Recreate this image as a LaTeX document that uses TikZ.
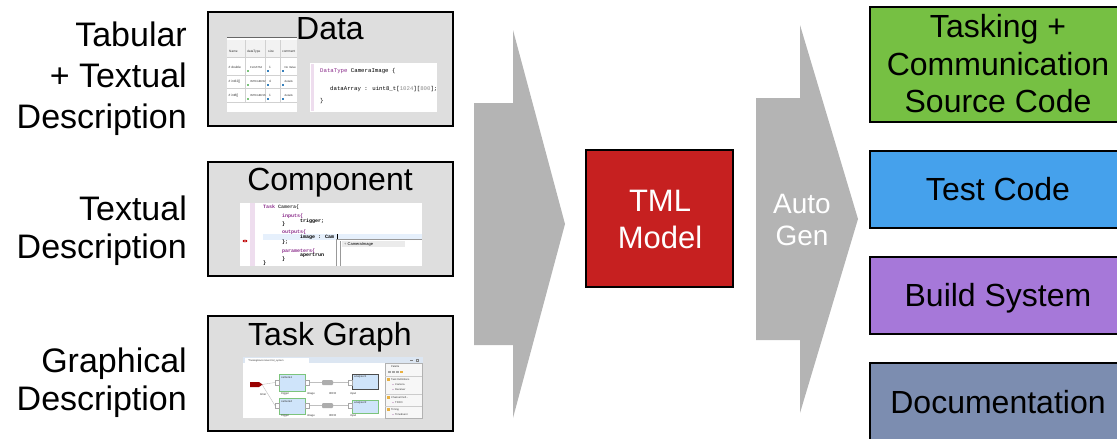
\documentclass[tikz,border=0pt]{standalone}
\usepackage{fontspec}
\setmainfont{Liberation Sans}
\newfontfamily\codefont{Liberation Mono}
\definecolor{panelgray}{HTML}{DEDEDE}
\definecolor{arrowgray}{HTML}{B4B4B4}
\definecolor{tmlred}{HTML}{C62020}
\definecolor{srcgreen}{HTML}{76C043}
\definecolor{testblue}{HTML}{45A1EC}
\definecolor{buildpurple}{HTML}{A678D9}
\definecolor{docslate}{HTML}{7C8DB0}
\definecolor{kwpurple}{HTML}{8B2D8B}
\definecolor{gutterpink}{HTML}{EEDDEE}
\definecolor{linehl}{HTML}{E6F0FC}
\definecolor{nodeblue}{HTML}{CFE4FA}
\definecolor{nodegreen}{HTML}{7CC47C}
\definecolor{tabbar}{HTML}{DCE6F2}
\definecolor{folder}{HTML}{E8B040}
\begin{document}
\begin{tikzpicture}[x=1pt,y=-1pt,
  panel/.style={draw=black,line width=2.6pt,fill=panelgray,inner sep=0,minimum width=245pt},
  outbox/.style={draw=black,line width=2.6pt,inner sep=0,minimum width=256pt,minimum height=77pt},
  side/.style={font=\fontsize{34}{40}\selectfont,inner sep=0,anchor=base east},
  title/.style={font=\fontsize{32}{38}\selectfont,inner sep=0,anchor=base},
  outtext/.style={font=\fontsize{32}{38}\selectfont,inner sep=0,anchor=base},
  midtext/.style={font=\fontsize{31}{37}\selectfont,inner sep=0,anchor=base,text=white},
  code/.style={font=\codefont\fontsize{5.7}{6}\selectfont,inner sep=0,anchor=base west},
  ccode/.style={font=\codefont\bfseries\fontsize{5}{5.5}\selectfont,inner sep=0,anchor=base west},
  tiny/.style={font=\fontsize{3.2}{3.5}\selectfont,inner sep=0,anchor=base west,text=black!80},
  kw/.style={text=kwpurple},
  gridline/.style={draw=black!18,line width=0.3pt},
  tgnode/.style={fill=nodeblue,draw=nodegreen,line width=0.6pt},
  port/.style={fill=white,draw=black!35,line width=0.3pt},
  wire/.style={draw=black!25,line width=0.4pt},
]
\useasboundingbox (0,0) rectangle (1117,439);

% ---------- input descriptions ----------
\node[side] (tabA) at (187,46) {Tabular};
\node[side] (tabB) at (187,87) {+ Textual};
\node[side] (tabC) at (187,128) {Description};
\node[side] (txtA) at (187,220) {Textual};
\node[side] (txtB) at (187,258) {Description};
\node[side] (grA) at (187,372) {Graphical};
\node[side] (grB) at (187,410) {Description};

% ---------- input panels ----------
\node[panel,minimum height=114pt] (datapanel) at (330.5,69) {};
\node[panel,minimum height=114pt] (comppanel) at (330.5,219) {};
\node[panel,minimum height=115pt] (graphpanel) at (330.5,373.5) {};

% Data: table view
\fill[white] (227,37) rectangle (297,112);
\draw[black!60,line width=0.6pt] (227,37.4) -- (297,37.4);
\fill[black!5] (227,40) rectangle (297,57);
\foreach \yy in {57,75,88,102} \draw[gridline] (227,\yy) -- (297,\yy);
\foreach \xx in {245,265,280} \draw[gridline] (\xx,40) -- (\xx,102);
\node[tiny] (hname) at (229,52) {Name};
\node[tiny] (htype) at (247,52) {dataType};
\node[tiny] (hsize) at (268,52) {size};
\node[tiny] (hcomm) at (282,52) {comment};
\foreach \yy/\na/\ty/\sz/\cm [count=\r] in {68/{\# double}/FLOAT64/1/{No Value},
                                            82/{\# int32[]}/INTEGER32/4/details,
                                            96/{\# int8[]}/INTEGER16/1/details}{
  \node[tiny] (rn\r) at (228.5,\yy) {\na};
  \node[tiny,font=\fontsize{2.8}{3}\selectfont] (rt\r) at (250,\yy) {\ty};
  \node[tiny] (rs\r) at (269,\yy) {\sz};
  \node[tiny,font=\fontsize{2.8}{3}\selectfont] (rc\r) at (284.5,\yy) {\cm};
  \fill[nodegreen] (246.5,\yy+1.5) rectangle (248.8,\yy+3.8);
  \fill[testblue!80!black] (266.5,\yy+1.5) rectangle (268.8,\yy+3.8);
  \fill[testblue!80!black] (281.5,\yy+1.5) rectangle (283.8,\yy+3.8);
}

% Data: type definition
\fill[white] (310,63) rectangle (437,112);
\fill[gutterpink] (311,64) rectangle (314,111);
\node[code] (dl1) at (320,72) {\textcolor{kwpurple}{DataType} CameraImage \{};
\node[code] (dl2) at (330,90) {dataArray : uint8\_t[\textcolor{black!45}{1024}][\textcolor{black!45}{800}];};
\node[code] (dl3) at (320,102) {\}};

% ---------- titles ----------
\node[title] (datatitle) at (330,39) {Data};
\node[title] (comptitle) at (330,190) {Component};
\node[title] (graphtitle) at (330,345) {Task Graph};

% Component: editor
\fill[white] (240,203) rectangle (422,266);
\fill[gutterpink] (250,203) rectangle (255,266);
\fill[linehl] (263,234) rectangle (422,239.5);
\fill[red!75!black] (245,241) ellipse [x radius=2.4pt,y radius=1.3pt];
\fill[white] (245,241) ellipse [x radius=1.2pt,y radius=0.5pt];
\node[ccode,kw] (cl1) at (263,208) {Task \textcolor{black!75}{Camera\{}};
\node[ccode,kw] (cl2) at (282,217) {inputs\{};
\node[ccode] (cl3) at (300,222) {trigger;};
\node[ccode] (cl4) at (282,225.5) {\}};
\node[ccode,kw] (cl5) at (282,233) {outputs\{};
\node[ccode] (cl6) at (300,238) {image : Cam};
\draw[black,line width=0.5pt] (337.2,234) -- (337.2,239);
\node[ccode] (cl7) at (282,243.5) {\};};
\node[ccode,kw] (cl8) at (282,252) {parameters\{};
\node[ccode] (cl9) at (300,256.5) {apertrun};
\node[ccode] (cl10) at (282,260) {\}};
\node[ccode] (cl11) at (263,264) {\}};
% completion popup
\fill[white] (336,239.5) rectangle (422,266);
\draw[black!40,line width=0.4pt] (336,266) -- (336,239.5) -- (422,239.5);
\draw[black!40,line width=0.4pt] (340.5,241) -- (340.5,266);
\fill[black!8] (342,241) rectangle (405,246.5);
\node[font=\fontsize{4}{4.5}\selectfont,inner sep=0,anchor=base west] (popitem) at (344,245.2) {\textcolor{black!55}{+} CameraImage};

% Task Graph: editor
\fill[white] (243,357) rectangle (423,418);
\fill[tabbar] (243,357) rectangle (423,363);
\fill[white] (245,357.5) rectangle (309,363);
\node[tiny,font=\fontsize{2.4}{2.5}\selectfont] (tabname) at (248,361.6) {*TaskingEnvironment.tml\_system};
\draw[black!50,line width=0.3pt] (410,360) -- (413,360);
\draw[black!50,line width=0.3pt] (416,358.8) rectangle (418.5,361.3);
% wires
\draw[wire] (262,384.5) -- (275,382.5);
\draw[wire] (262,384.5) -- (275,405.5);
\draw[wire] (309,382.5) -- (322,382.5);
\draw[wire] (333,382.5) -- (348,382.5);
\draw[wire] (309,405.5) -- (322,405.5);
\draw[wire] (333,405.5) -- (348,405.5);
% timer
\fill[red!60!black] (250,382) -- (259,382) -- (262.5,384.5) -- (259,387) -- (250,387) -- cycle;
\node[tiny,font=\fontsize{2.8}{3}\selectfont] (tlab) at (260,395) {timer};
% tasks
\node[tgnode,minimum width=26pt,minimum height=17pt,inner sep=0] (cam1) at (292,382.5) {};
\node[tgnode,minimum width=26pt,minimum height=16pt,inner sep=0] (cam2) at (292,406) {};
\node[tgnode,draw=black!70,minimum width=26pt,minimum height=15pt,inner sep=0] (ana1) at (365,381.5) {};
\node[tgnode,minimum width=26pt,minimum height=13pt,inner sep=0] (ana2) at (365,406.5) {};
\node[tiny,font=\fontsize{2.8}{3}\selectfont] (cam1l) at (281,378.5) {camera1};
\node[tiny,font=\fontsize{2.8}{3}\selectfont] (cam2l) at (281,402) {camera2};
\node[tiny,font=\fontsize{2.8}{3}\selectfont] (ana1l) at (354,377.5) {analyser1};
\node[tiny,font=\fontsize{2.8}{3}\selectfont] (ana2l) at (354,403) {analyser2};
% ports
\foreach \px/\py in {275/380,305/380,275/403,305/403,348/380,348/403}
  \filldraw[port] (\px,\py) rectangle (\px+4,\py+5);
% channels
\fill[black!32,rounded corners=1pt] (322,380) rectangle (333,385);
\fill[black!32,rounded corners=1pt] (322,403) rectangle (333,408);
% port labels
\foreach \ly [count=\k] in {394.5,416.5}{
  \node[tiny,font=\fontsize{2.8}{3}\selectfont] (trg\k) at (281,\ly) {trigger};
  \node[tiny,font=\fontsize{2.8}{3}\selectfont] (img\k) at (307,\ly) {image};
  \node[tiny,font=\fontsize{2.8}{3}\selectfont] (ffo\k) at (329,\ly) {tFIFO};
  \node[tiny,font=\fontsize{2.8}{3}\selectfont] (inp\k) at (350,\ly) {input};
}
% palette
\fill[black!3] (385,363.5) rectangle (422,418);
\draw[black!30,line width=0.3pt] (385,363.5) rectangle (422,418);
\node[tiny,font=\fontsize{2.6}{3}\selectfont] (palA) at (391,367.5) {Palette};
\foreach \ix in {388,392,396} \fill[black!35] (\ix,370.5) rectangle (\ix+2.5,373);
\fill[folder] (400,370.5) rectangle (403,373);
\foreach \yy/\lab/\lx/\ic [count=\k] in {380.5/Task Definitions/391/1,
                                        385.5/Camera/395/0,
                                        390.5/Receiver/395/0,
                                        398.5/{Channel Defi...}/391/1,
                                        403.5/TFIFO/395/0,
                                        410.5/Timing/391/1,
                                        415.5/TimeEvent/395/0}{
  \node[tiny,font=\fontsize{2.6}{3}\selectfont] (pal\k) at (\lx,\yy) {\lab};
  \ifnum\ic=1
    \fill[folder] (386.5,\yy-2.3) rectangle (389.5,\yy);
    \draw[black!20,line width=0.3pt] (385,\yy-4) -- (422,\yy-4);
  \else
    \fill[kwpurple!60] (393,\yy-1) circle (0.6pt);
  \fi
}

% ---------- flow arrows ----------
\fill[arrowgray] (474,103) -- (513,103) -- (513,30) -- (565,224) -- (513,418) -- (513,345) -- (474,345) -- cycle;
\fill[arrowgray] (756,98) -- (800,98) -- (800,25) -- (858,219) -- (800,413) -- (800,340) -- (756,340) -- cycle;
\node[font=\fontsize{28}{32}\selectfont,inner sep=0,anchor=base,text=white] (autoA) at (802,213) {Auto};
\node[font=\fontsize{28}{32}\selectfont,inner sep=0,anchor=base,text=white] (autoB) at (802,245) {Gen};

% ---------- model ----------
\node[draw=black,line width=2.6pt,fill=tmlred,minimum width=147pt,minimum height=137pt,inner sep=0] (tml) at (659.5,218.5) {};
\node[midtext] (tmlA) at (660,211) {TML};
\node[midtext] (tmlB) at (660,248) {Model};

% ---------- generated artefacts ----------
\node[outbox,fill=srcgreen,minimum height=115pt] (src) at (998,64.5) {};
\node[outtext] (srcA) at (998,37.5) {Tasking +};
\node[outtext] (srcB) at (998,75) {Communication};
\node[outtext] (srcC) at (998,112.5) {Source Code};
\node[outbox,fill=testblue] (test) at (998,189.5) {};
\node[outtext] (testA) at (998,200.5) {Test Code};
\node[outbox,fill=buildpurple] (build) at (998,295.5) {};
\node[outtext] (buildA) at (998,306.5) {Build System};
\node[outbox,fill=docslate] (doc) at (998,401.5) {};
\node[outtext] (docA) at (998,413) {Documentation};
\end{tikzpicture}
\end{document}
